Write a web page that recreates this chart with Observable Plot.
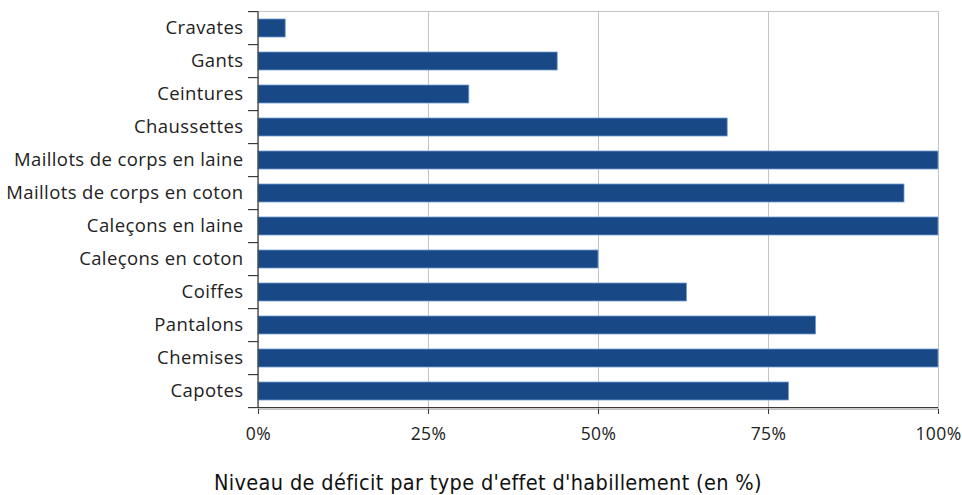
<!DOCTYPE html>
<html>
<head>
<meta charset="utf-8">
<script src="https://cdn.jsdelivr.net/npm/d3@7"></script>
<script src="https://cdn.jsdelivr.net/npm/@observablehq/plot@0.6"></script>
<style>
  body { margin: 0; background: #fff; }
  #chart svg { display: block; }
  #title { width: 962px; height: 25px; line-height: 25px; text-align: center; padding-left: 14px; box-sizing: border-box; white-space: nowrap;
    font-family: "DejaVu Sans Condensed", "Open Sans", sans-serif; font-size: 21.5px; letter-spacing: 0.35px; color: #111; }
</style>
</head>
<body>
<div id="chart"></div>
<div id="title">Niveau de déficit par type d'effet d'habillement (en %)</div>
<script>
const categories = ["Cravates","Gants","Ceintures","Chaussettes","Maillots de corps en laine","Maillots de corps en coton","Caleçons en laine","Caleçons en coton","Coiffes","Pantalons","Chemises","Capotes"];
const values = [4,44,31,69,100,95,100,50,63,82,100,78];
const xTicks = [0,25,50,75,100];

const data = categories.map((c, i) => ({category: c, value: values[i]}));
const pad = 0.45;

function axisLines(index, scales, vals, dims) {
  const y = scales.y, x = scales.x;
  const step = y(categories[1]) - y(categories[0]);
  const off = step * pad / 2;
  const g = d3.create("svg:g").attr("stroke", "#3a3a3a").attr("stroke-width", 1.2);
  const x0 = x(0);
  const bounds = categories.map(c => y(c) - off);
  bounds.push(y(categories[categories.length - 1]) + step - off);
  for (const b of bounds) {
    g.append("line").attr("x1", x0 - 10).attr("x2", x0).attr("y1", b).attr("y2", b);
  }
  const yb = bounds[bounds.length - 1];
  g.append("line").attr("x1", x0).attr("x2", x(100)).attr("y1", yb).attr("y2", yb);
  g.append("line").attr("x1", x0).attr("x2", x0).attr("y1", bounds[0]).attr("y2", yb);
  return g.node();
}

const chart = Plot.plot({
  width: 962,
  height: 470,
  marginLeft: 258,
  marginRight: 24,
  marginTop: 11,
  marginBottom: 61,
  style: {fontFamily: "'Open Sans', sans-serif", fontSize: "18px", color: "#222", background: "#fff", letterSpacing: "0.4px"},
  x: {domain: [0, 100]},
  y: {domain: categories, padding: pad, paddingOuter: pad / 2},
  marks: [
    Plot.frame({stroke: "#c4c4c4", strokeOpacity: 1}),
    Plot.gridX({ticks: [25, 50, 75, 100], stroke: "#c4c4c4", strokeOpacity: 1}),
    Plot.barX(data, {x: "value", y: "category", fill: "#184986", stroke: "#6f9ccf", strokeWidth: 0.8}),
    axisLines,
    Plot.axisY({tickSize: 0, tickPadding: 15, label: null, fontSize: 18.5}),
    Plot.axisX({ticks: xTicks, tickFormat: d => d + "%", tickSize: 5, tickPadding: 13, label: null, fontSize: 17.5, stroke: "#3a3a3a"})
  ]
});
document.getElementById("chart").appendChild(chart);
</script>
</body>
</html>
